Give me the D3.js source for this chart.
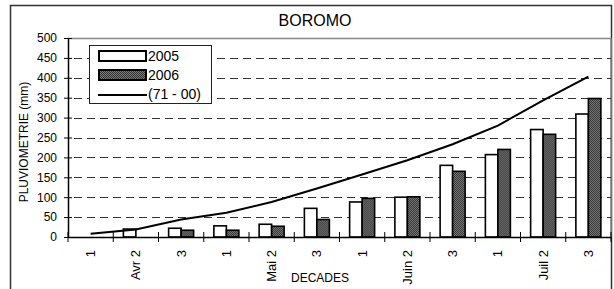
<html>
<head>
<meta charset="utf-8">
<script src="https://d3js.org/d3.v7.min.js"></script>
<style>
body { margin: 0; background: #fff; }
text { font-family: "Liberation Sans", Arial, sans-serif; fill: #000; }
</style>
</head>
<body>
<svg width="614" height="289"></svg>
<script>
// decades, April to July
const decades = ["1", "Avr 2", "3", "1", "Mai 2", "3", "1", "Juin 2", "3", "1", "Juil 2", "3"]
const series = ["2005", "2006"]
const rain2005 = [0, 20, 22, 28, 32, 72, 88, 100, 180, 207, 270, 309]
const rain2006 = [0, 0, 17, 17, 27, 44, 97, 101, 165, 220, 258, 348]
const normale = [8, 19, 44, 61, 88, 122, 157, 193, 233, 280, 343, 403]
const yTicks = [0, 50, 100, 150, 200, 250, 300, 350, 400, 450, 500]

const svg = d3.select("svg")
const width = +svg.attr("width")
const height = +svg.attr("height")
const margin = {top: 38, right: 3, bottom: 52, left: 68}
const plotW = width - margin.left - margin.right
const plotH = height - margin.top - margin.bottom

// hatched fill for 2006
const defs = svg.append("defs")
const pat = defs.append("pattern").attr("id", "dots")
  .attr("width", 2).attr("height", 2).attr("patternUnits", "userSpaceOnUse")
pat.append("rect").attr("width", 2).attr("height", 2).attr("fill", "#7a7a7a")
pat.append("rect").attr("width", 1).attr("height", 1).attr("fill", "#333")
pat.append("rect").attr("x", 1).attr("y", 1).attr("width", 1).attr("height", 1).attr("fill", "#333")

// outer frame
svg.append("rect").attr("x", 10.5).attr("y", 5.5).attr("width", 601).attr("height", 300)
  .attr("fill", "none").attr("stroke", "#333").attr("stroke-width", 1.5)

svg.append("text").attr("x", 315).attr("y", 26).attr("text-anchor", "middle")
  .style("font-size", "16px").text("BOROMO")

const x = d3.scaleBand().domain(d3.range(decades.length)).range([0, plotW]).padding(0)
const xs = d3.scaleBand().domain(series).range([0, 25])
const y = d3.scaleLinear().domain([0, 500]).range([plotH, 0])

const g = svg.append("g").attr("transform", "translate(" + margin.left + "," + margin.top + ")")

// plot area border (gray)
g.append("path").attr("d", "M0,0.5H" + plotW + "V" + plotH)
  .attr("fill", "none").attr("stroke", "#888").attr("stroke-width", 1.5)

// dashed gridlines
g.selectAll(".grid").data(yTicks.filter(d => d > 0 && d < 500)).enter()
  .append("line").attr("class", "grid")
  .attr("x1", 0).attr("x2", plotW)
  .attr("y1", d => Math.round(y(d)) + 0.5).attr("y2", d => Math.round(y(d)) + 0.5)
  .attr("stroke", "#333").attr("stroke-width", 1).attr("stroke-dasharray", "8,5")
  .attr("stroke-dashoffset", -6)

// bars
const rows = decades.map((d, i) => ({i: i, v: [rain2005[i], rain2006[i]]}))
const grp = g.selectAll(".dec").data(rows).enter().append("g")
  .attr("transform", d => "translate(" + (x(d.i) + x.bandwidth() / 2 - 12.5) + ",0)")
grp.selectAll("rect").data(d => d.v.map((v, k) => ({k: k, v: v}))).enter()
  .append("rect")
  .attr("x", d => xs(series[d.k]))
  .attr("y", d => y(d.v))
  .attr("width", xs.bandwidth())
  .attr("height", d => plotH - y(d.v))
  .attr("fill", d => d.k == 0 ? "#fff" : "url(#dots)")
  .attr("stroke", "#000").attr("stroke-width", 1.6)

// normal 1971-2000 cumulative line
const line = d3.line().x((d, i) => x(i) + x.bandwidth() / 2).y(d => y(d))
g.append("path").datum(normale).attr("d", line)
  .attr("fill", "none").attr("stroke", "#000").attr("stroke-width", 2)

// axes
const yAxis = d3.axisLeft(y).tickValues(yTicks).tickSizeInner(4).tickSizeOuter(0).tickPadding(7)
const ga = g.append("g").call(yAxis)
ga.selectAll(".tick line").attr("x2", -4).attr("x1", 4)
ga.select(".domain").attr("stroke-width", 1.5)
ga.selectAll("text").style("font-size", "12px")

const xAxis = d3.axisBottom(x).tickFormat(i => decades[i]).tickSize(0).tickPadding(0)
const gx = g.append("g").attr("transform", "translate(0," + plotH + ")").call(xAxis)
gx.select(".domain").attr("stroke-width", 1.5)
gx.selectAll("text").style("font-size", "13px")
  .attr("transform", "rotate(-90)").attr("text-anchor", "end")
  .attr("x", -13).attr("y", 0).attr("dy", "0.35em")
// crossing ticks at decade boundaries
gx.selectAll(".bound").data(d3.range(decades.length + 1)).enter()
  .append("line").attr("class", "bound")
  .attr("x1", i => i * x.step()).attr("x2", i => i * x.step())
  .attr("y1", -5).attr("y2", 5).attr("stroke", "#000").attr("stroke-width", 1)

svg.append("text").attr("x", 320).attr("y", 282).attr("text-anchor", "middle")
  .style("font-size", "12px").text("DECADES")
svg.append("text").attr("transform", "translate(28,142) rotate(-90)").attr("text-anchor", "middle")
  .style("font-size", "12px").text("PLUVIOMETRIE (mm)")

// legend
const lg = svg.append("g").attr("transform", "translate(89,45)")
lg.append("rect").attr("x", 0.5).attr("y", 0.5).attr("width", 122).attr("height", 58)
  .attr("fill", "#fff").attr("stroke", "#222").attr("stroke-width", 1)
const items = series.concat(["(71 - 00)"])
items.forEach((s, k) => {
  const ly = 11 + k * 19
  if (k < 2) {
    lg.append("rect").attr("x", 10).attr("y", ly - 5).attr("width", 47).attr("height", 10)
      .attr("fill", k == 0 ? "#fff" : "url(#dots)").attr("stroke", "#000").attr("stroke-width", 2)
  } else {
    lg.append("line").attr("x1", 9).attr("x2", 58).attr("y1", ly + 1).attr("y2", ly + 1)
      .attr("stroke", "#000").attr("stroke-width", 2)
  }
  lg.append("text").attr("x", 59).attr("y", ly + 5).style("font-size", "14px").text(s)
})
</script>
</body>
</html>
